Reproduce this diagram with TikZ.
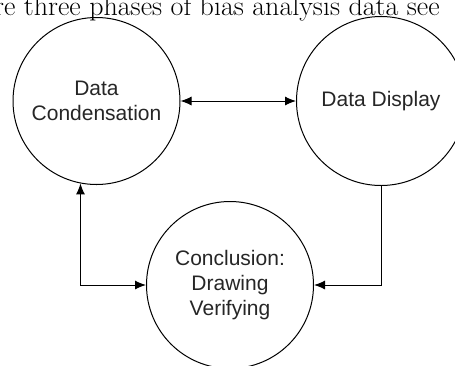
\documentclass[tikz,border=0pt]{standalone}
\usepackage{fontspec}
\newfontfamily\labelfont{Liberation Sans}
\usetikzlibrary{arrows.meta}
\tikzset{phase/.style={draw,circle,line width=1pt,minimum size=167pt,inner sep=0pt,
  align=center,text=black!85,font=\labelfont\fontsize{21}{25}\selectfont},
  link/.style={line width=1pt,{Latex[length=11pt,width=9pt]}-{Latex[length=11pt,width=9pt]}},
  onelink/.style={line width=1pt,-{Latex[length=11pt,width=9pt]}}}
\begin{document}
\begin{tikzpicture}[x=1pt,y=-1pt]
\clip (0,0) rectangle (455,365);
 \node[anchor=base west,inner sep=0pt,font=\fontsize{28}{32}\selectfont] (caption) at (-6,15) {re three phases of bias analysis data see};
 \node[phase] (cond) at (96.5,101) {Data\\Condensation};
 \node[phase,minimum size=169pt] (disp) at (381,101) {Data Display};
 \node[phase] (concl) at (230,285) {Conclusion:\\Drawing\\Verifying};
\draw [link] (cond.east) -- (disp.west);
\draw [link] (cond.259) |- (concl.west);
\draw [onelink] (disp.south) |- (concl.east);
\end{tikzpicture}
\end{document}
